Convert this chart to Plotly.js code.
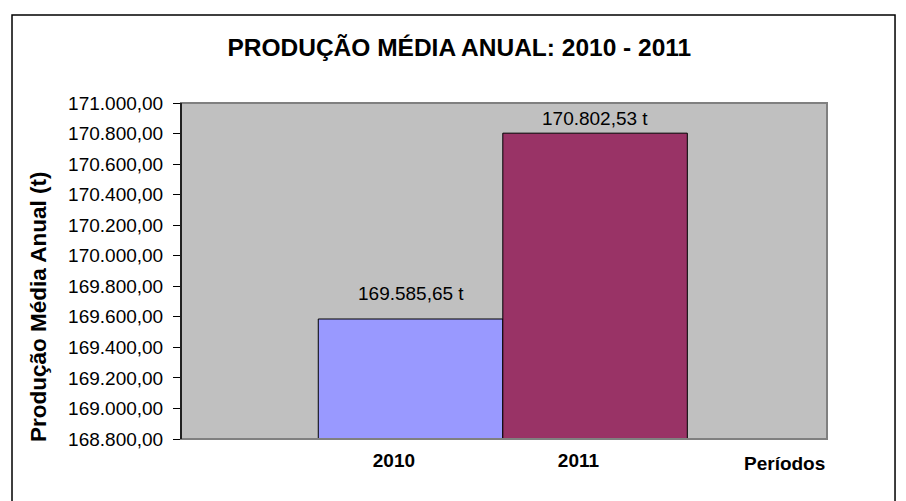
<!DOCTYPE html>
<html>
<head>
<meta charset="utf-8">
<script src="https://cdn.plot.ly/plotly-3.0.1.min.js"></script>
<style>html,body{margin:0;padding:0;background:#fff;}#chart{width:906px;height:501px;}</style>
</head>
<body>
<div id="chart"></div>
<script>
const categories = ['2010', '2011'];
const values = [169585.65, 170802.53];
const barColors = ['#9999FF', '#993366'];
const yTicks = [168800, 169000, 169200, 169400, 169600, 169800, 170000, 170200, 170400, 170600, 170800, 171000];
const labelShift = [13, 2];

function fmtBR(v) {
  const parts = v.toFixed(2).split('.');
  parts[0] = parts[0].replace(/\B(?=(\d{3})+(?!\d))/g, '.');
  return parts[0] + ',' + parts[1];
}

const FONT = 'Liberation Sans, Arial, sans-serif';

const trace = {
  type: 'bar',
  x: categories,
  y: values,
  width: 1,
  offset: -0.41,
  marker: {color: barColors, line: {color: '#000', width: 1}},
  hoverinfo: 'none'
};

const annotations = categories.map((c, i) => ({
  xref: 'x', yref: 'y', x: i, y: values[i],
  xshift: 17, yshift: labelShift[i],
  text: fmtBR(values[i]) + ' t',
  showarrow: false, xanchor: 'center', yanchor: 'bottom',
  font: {family: FONT, size: 19, color: '#000'}
}));

annotations.push({
  xref: 'paper', yref: 'paper', x: -0.2198, y: 0.393,
  text: 'Produção Média Anual (t)', textangle: -90, showarrow: false,
  xanchor: 'center', yanchor: 'middle',
  font: {family: FONT, size: 22.5, color: '#000', weight: 'bold'}
});
annotations.push({
  xref: 'paper', yref: 'paper', x: 1, y: -0.0744,
  text: 'Períodos', showarrow: false, xanchor: 'right', yanchor: 'middle',
  font: {family: FONT, size: 19, color: '#000', weight: 'bold'}
});

const layout = {
  width: 906, height: 501,
  margin: {l: 181, r: 79, t: 103, b: 62},
  paper_bgcolor: '#fff',
  plot_bgcolor: '#C0C0C0',
  separators: ',.',
  showlegend: false,
  title: {
    text: 'PRODUÇÃO MÉDIA ANUAL: 2010 - 2011',
    x: 0.507, xref: 'container', xanchor: 'center',
    y: 0.906, yref: 'container', yanchor: 'middle',
    font: {family: FONT, size: 24.5, color: '#000', weight: 'bold'}
  },
  xaxis: {
    type: 'category',
    categoryorder: 'array', categoryarray: categories,
    range: [-1.154, 2.347],
    showgrid: false, zeroline: false, showline: false,
    ticks: '', ticklabelstandoff: 8,
    tickfont: {family: FONT, size: 19, color: '#000', weight: 'bold'},
    fixedrange: true
  },
  yaxis: {
    range: [168800, 171000],
    tickvals: yTicks,
    tickformat: ',.2f',
    showgrid: false, zeroline: false,
    showline: true, linecolor: '#000', linewidth: 1,
    ticks: 'outside', ticklen: 7, tickcolor: '#000', tickwidth: 1,
    ticklabelstandoff: 6,
    tickfont: {family: FONT, size: 19, color: '#000'},
    fixedrange: true
  },
  shapes: [
    {type: 'rect', xref: 'paper', yref: 'paper', x0: 0, x1: 1, y0: 0, y1: 1,
     line: {color: '#808080', width: 2}, fillcolor: 'rgba(0,0,0,0)', layer: 'above'},
    {type: 'line', xref: 'paper', yref: 'paper', x0: 0, x1: 0, y0: 0, y1: 1,
     line: {color: '#000', width: 1.5}, layer: 'above'},
    {type: 'rect', xref: 'paper', yref: 'paper', x0: -0.2616, x1: 1.1053, y0: -0.2113, y1: 1.2619,
     line: {color: '#000', width: 1.5}, fillcolor: 'rgba(0,0,0,0)', layer: 'below'}
  ],
  annotations: annotations
};

Plotly.newPlot('chart', [trace], layout, {displayModeBar: false, staticPlot: true});
</script>
</body>
</html>
